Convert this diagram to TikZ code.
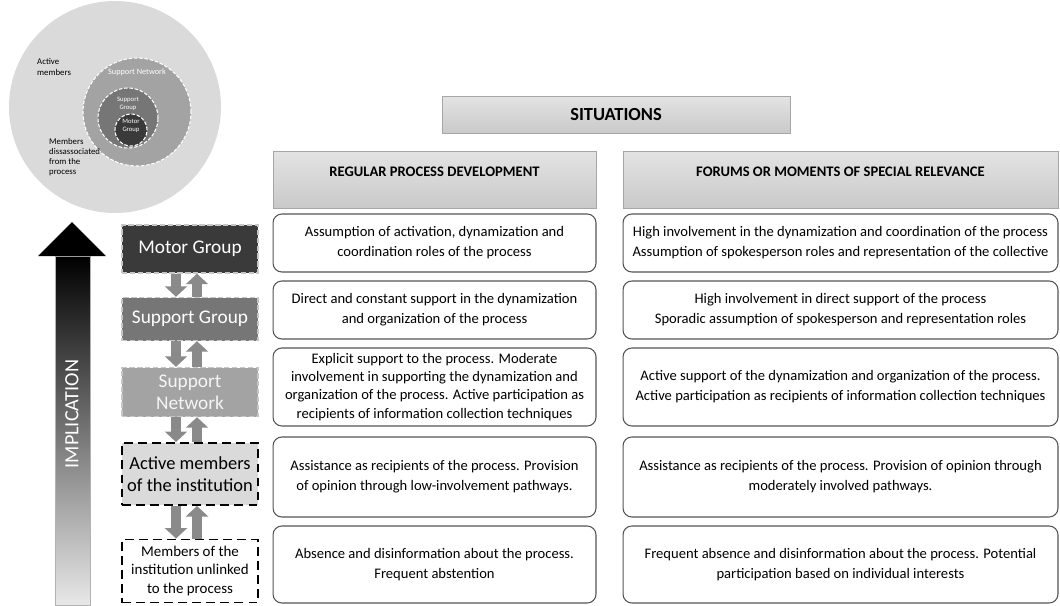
\documentclass[tikz,border=0pt]{standalone}
\usepackage{fontspec}
\setmainfont{Carlito}
\usetikzlibrary{arrows.meta,positioning}
\definecolor{ringgray}{RGB}{218,218,218}
\definecolor{netgray}{RGB}{163,163,163}
\definecolor{groupgray}{RGB}{118,118,118}
\definecolor{motorgray}{RGB}{58,58,58}
\definecolor{linegray}{RGB}{85,85,85}
\definecolor{arrowgray}{RGB}{138,138,138}

\begin{document}
\begin{tikzpicture}[x=0.02cm,y=-0.02cm,
  cell/.style={draw=linegray,line width=0.6pt,rounded corners=5pt,fill=white,align=center,
    inner sep=0pt,font=\fontsize{8.3}{11.3}\selectfont},
  header/.style={draw=gray!70,top color=gray!22,bottom color=gray!42,inner sep=0pt,
    font=\fontsize{8.3}{10}\selectfont\bfseries},
  stage/.style={minimum width=2.72cm,align=center,inner sep=0pt,font=\fontsize{11}{12.5}\selectfont},
  darkstage/.style={stage,draw=gray!45,line width=0.8pt,dash pattern=on 3pt off 1.5pt,text=white},
  lightstage/.style={stage,draw=black,line width=1.1pt,dash pattern=on 5pt off 3pt},
  blockarrow/.style={arrowgray,line width=6pt,-{Triangle[width=12.5pt,length=6pt]}},
  ring/.style={draw=white,line width=0.6pt,dash pattern=on 2pt off 1pt}]
\useasboundingbox (0,0) rectangle (1060,605);

% circles
\fill[ringgray] (115,107) circle (106*0.02cm);
\fill[netgray,ring] (137,112) circle (54*0.02cm);
\fill[groupgray,ring] (128,118) circle (30*0.02cm);
\fill[motorgray,ring] (131,130) circle (16*0.02cm);
\node[align=left,anchor=west,font=\fontsize{5}{5.7}\selectfont] (actlbl) at (31,67) {Active\\members};
\node[text=white,font=\fontsize{4.7}{5}\selectfont] (netlbl) at (137,72) {Support Network};
\node[text=white,align=center,font=\fontsize{3.8}{4.5}\selectfont] (grplbl) at (128,104) {Support\\Group};
\node[text=white,align=center,font=\fontsize{3.8}{4.5}\selectfont] (motlbl) at (131,126) {Motor\\Group};
\node[align=left,anchor=west,font=\fontsize{5}{5.7}\selectfont] (dislbl) at (43,157) {Members\\dissassociated\\from the\\process};

% implication arrow
\shade[top color=black,bottom color=gray!18,draw=gray!60,line width=0.3pt] (55,256) rectangle (90,605);
\fill[black] (38,256) -- (72,222) -- (106,256) -- cycle;
\node[text=white,rotate=90,font=\fontsize{11.5}{12}\selectfont] (impl) at (72,414) {IMPLICATION};

% headers
\node[header,minimum width=6.96cm,minimum height=0.74cm,font=\fontsize{10.5}{12}\selectfont\bfseries] (sit) at (616,114.5) {SITUATIONS};
\node[header,minimum width=6.46cm,text height=0.5cm,text depth=0.64cm] (reg) at (434.5,179.5) {REGULAR PROCESS DEVELOPMENT};
\node[header,minimum width=8.7cm,text height=0.5cm,text depth=0.64cm] (forum) at (840.5,179.5) {FORUMS OR MOMENTS OF SPECIAL RELEVANCE};

% stages
\node[darkstage,fill=motorgray,minimum height=0.96cm] (motor) at (190,249) {Motor Group};
\node[darkstage,fill=groupgray,minimum height=0.86cm] (sgroup) at (190,319) {Support Group};
\node[darkstage,fill=netgray,minimum height=0.98cm,text=gray!8] (snet) at (190,392) {Support\\Network};
\node[lightstage,fill=ringgray,minimum height=1.24cm,font=\fontsize{10.5}{12.5}\selectfont] (amem) at (190,474) {Active members\\of the institution};
\node[lightstage,fill=white,minimum height=1.26cm,font=\fontsize{8.5}{10.5}\selectfont] (unlink) at (190,571) {Members of the\\institution unlinked\\to the process};

\foreach \a/\b in {motor/sgroup,sgroup/snet,snet/amem,amem/unlink}{
  \draw[blockarrow] ([xshift=-0.28cm]\a.south) -- ([xshift=-0.28cm]\b.north);
  \draw[blockarrow] ([xshift=0.14cm]\b.north) -- ([xshift=0.14cm]\a.south);
}

% regular column
\node[cell,minimum width=6.46cm,minimum height=1.16cm] (r1) at (434.5,243) {Assumption of activation, dynamization and\\coordination roles of the process};
\node[cell,minimum width=6.46cm,minimum height=1.16cm] (r2) at (434.5,310) {Direct and constant support in the dynamization\\and organization of the process};
\node[cell,minimum width=6.46cm,minimum height=1.56cm,font=\fontsize{8.3}{10.3}\selectfont] (r3) at (434.5,387) {Explicit support to the process. Moderate\\involvement in supporting the dynamization and\\organization of the process. Active participation as\\recipients of information collection techniques};
\node[cell,minimum width=6.46cm,minimum height=1.6cm] (r4) at (434.5,477) {Assistance as recipients of the process. Provision\\of opinion through low-involvement pathways.};
\node[cell,minimum width=6.46cm,minimum height=1.54cm] (r5) at (434.5,564.5) {Absence and disinformation about the process.\\Frequent abstention};

% forums column
\node[cell,minimum width=8.7cm,minimum height=1.16cm] (f1) at (840.5,243) {High involvement in the dynamization and coordination of the process\\Assumption of spokesperson roles and representation of the collective};
\node[cell,minimum width=8.7cm,minimum height=1.16cm] (f2) at (840.5,310) {High involvement in direct support of the process\\Sporadic assumption of spokesperson and representation roles};
\node[cell,minimum width=8.7cm,minimum height=1.56cm] (f3) at (840.5,387) {Active support of the dynamization and organization of the process.\\Active participation as recipients of information collection techniques};
\node[cell,minimum width=8.7cm,minimum height=1.6cm] (f4) at (840.5,477) {Assistance as recipients of the process. Provision of opinion through\\moderately involved pathways.};
\node[cell,minimum width=8.7cm,minimum height=1.54cm] (f5) at (840.5,564.5) {Frequent absence and disinformation about the process. Potential\\participation based on individual interests};
\end{tikzpicture}
\end{document}
